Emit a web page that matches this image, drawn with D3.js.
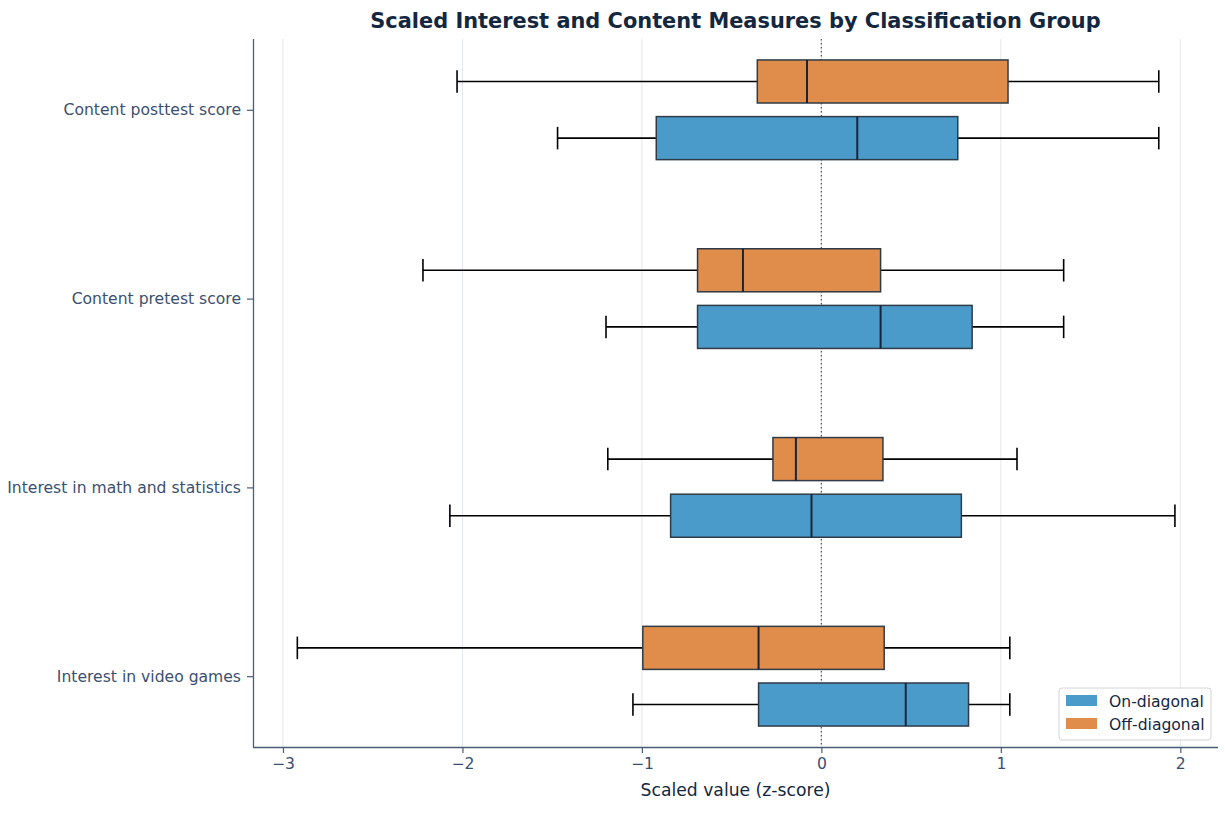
<!DOCTYPE html>
<html lang="en">
<head>
    <meta charset="UTF-8">
    <title>Scaled Interest and Content Measures</title>
    <style>
        body { margin: 0; background: #fff; }
        svg { font-family: "DejaVu Sans", sans-serif; }
    </style>
</head>
<body>
    <div id="chart"></div>

    <script src="https://d3js.org/d3.v7.min.js"></script>
    <script>
        const w = 1225;
        const h = 813;
        const padL = 253, padR = 1218, padT = 39, padB = 747;

        const categories = ['Content posttest score', 'Content pretest score',
                            'Interest in math and statistics', 'Interest in video games'];
        const groups = ['On-diagonal', 'Off-diagonal'];
        const colors = ['#4a9bc9', '#e08d4b'];
        const xTicks = [-3, -2, -1, 0, 1, 2];

        // [whisker low, q1, median, q3, whisker high] per category
        const onDiagonal = [
            [-1.47, -0.92, 0.20, 0.76, 1.88],
            [-1.20, -0.69, 0.33, 0.84, 1.35],
            [-2.07, -0.84, -0.055, 0.78, 1.97],
            [-1.05, -0.35, 0.47, 0.82, 1.05]
        ];
        const offDiagonal = [
            [-2.03, -0.357, -0.08, 1.04, 1.88],
            [-2.22, -0.69, -0.437, 0.33, 1.35],
            [-1.19, -0.27, -0.142, 0.343, 1.09],
            [-2.92, -0.995, -0.35, 0.35, 1.05]
        ];

        const xScale = d3.scaleLinear()
            .domain([-3.167, 2.21])
            .range([padL, padR]);
        const yScale = d3.scalePoint()
            .domain(categories)
            .range([padT, padB])
            .padding(0.375);
        const step = yScale.step();
        const offset = step * 0.15;      // distance of each box from the category
        const boxH = step * 0.228;
        const capH = boxH / 2;

        const svg = d3.select('#chart')
            .append('svg')
            .attr('width', w)
            .attr('height', h);

        // grid
        svg.append('g')
            .selectAll('line')
            .data(xTicks)
            .enter()
            .append('line')
            .attr('x1', d => xScale(d))
            .attr('x2', d => xScale(d))
            .attr('y1', padT)
            .attr('y2', padB)
            .attr('stroke', '#e3e7ed')
            .attr('stroke-width', 1);

        // zero reference
        svg.append('line')
            .attr('x1', xScale(0))
            .attr('x2', xScale(0))
            .attr('y1', padT)
            .attr('y2', padB)
            .attr('stroke', '#3d5470')
            .attr('stroke-width', 1.2)
            .attr('stroke-dasharray', '1.5,2.5');

        const boxes = [];
        categories.forEach((c, i) => {
            boxes.push({cat: c, g: 1, s: offDiagonal[i], cy: yScale(c) - offset});
            boxes.push({cat: c, g: 0, s: onDiagonal[i], cy: yScale(c) + offset});
        });

        const bx = svg.append('g')
            .selectAll('g')
            .data(boxes)
            .enter()
            .append('g');

        // whiskers
        bx.append('line')
            .attr('x1', d => xScale(d.s[0]))
            .attr('x2', d => xScale(d.s[1]))
            .attr('y1', d => d.cy).attr('y2', d => d.cy)
            .attr('stroke', '#000').attr('stroke-width', 1.6);
        bx.append('line')
            .attr('x1', d => xScale(d.s[3]))
            .attr('x2', d => xScale(d.s[4]))
            .attr('y1', d => d.cy).attr('y2', d => d.cy)
            .attr('stroke', '#000').attr('stroke-width', 1.6);
        // caps
        bx.selectAll('.cap')
            .data(d => [{x: d.s[0], cy: d.cy}, {x: d.s[4], cy: d.cy}])
            .enter()
            .append('line')
            .attr('class', 'cap')
            .attr('x1', d => xScale(d.x)).attr('x2', d => xScale(d.x))
            .attr('y1', d => d.cy - capH / 2 - 0.5).attr('y2', d => d.cy + capH / 2 + 0.5)
            .attr('stroke', '#000').attr('stroke-width', 1.6);
        // box
        bx.append('rect')
            .attr('x', d => xScale(d.s[1]))
            .attr('width', d => xScale(d.s[3]) - xScale(d.s[1]))
            .attr('y', d => d.cy - boxH / 2)
            .attr('height', boxH)
            .attr('fill', d => colors[d.g])
            .attr('stroke', '#2f3b47')
            .attr('stroke-width', 1.5);
        // median
        bx.append('line')
            .attr('x1', d => xScale(d.s[2])).attr('x2', d => xScale(d.s[2]))
            .attr('y1', d => d.cy - boxH / 2).attr('y2', d => d.cy + boxH / 2)
            .attr('stroke', '#13263d').attr('stroke-width', 2);

        // axes
        const xAxis = d3.axisBottom(xScale)
            .tickValues(xTicks)
            .tickSize(6)
            .tickPadding(5)
            .tickFormat(d3.format('d'));
        const yAxis = d3.axisLeft(yScale)
            .tickSize(6)
            .tickPadding(6);

        const gx = svg.append('g')
            .attr('transform', `translate(0, ${padB})`)
            .call(xAxis);
        const gy = svg.append('g')
            .attr('transform', `translate(${padL}, 0)`)
            .call(yAxis);

        gx.select('.domain').attr('d', `M${padL},0.5H${padR}`);
        gy.select('.domain').attr('d', `M0.5,${padT}V${padB}`);
        [gx, gy].forEach(g => {
            g.select('.domain').attr('stroke', '#4a5d78').attr('stroke-width', 1.3);
            g.selectAll('.tick line').attr('stroke', '#4a5d78').attr('stroke-width', 1.2);
            g.selectAll('.tick text')
                .attr('fill', '#3a5070')
                .style('font-size', '15.6px')
                .style('font-family', '"DejaVu Sans", sans-serif');
        });

        // titles
        svg.append('text')
            .attr('x', (padL + padR) / 2)
            .attr('y', 28)
            .attr('text-anchor', 'middle')
            .attr('fill', '#13273f')
            .style('font-size', '20.9px')
            .style('font-weight', 'bold')
            .text('Scaled Interest and Content Measures by Classification Group');

        svg.append('text')
            .attr('x', (padL + padR) / 2)
            .attr('y', 796)
            .attr('text-anchor', 'middle')
            .attr('fill', '#13273f')
            .style('font-size', '17.2px')
            .text('Scaled value (z-score)');

        // legend
        const lg = svg.append('g')
            .attr('transform', 'translate(1059, 688)');
        lg.append('rect')
            .attr('width', 152)
            .attr('height', 52)
            .attr('rx', 3)
            .attr('fill', '#fff')
            .attr('fill-opacity', 0.85)
            .attr('stroke', '#d4d4d4');
        const items = lg.selectAll('.item')
            .data(groups)
            .enter()
            .append('g')
            .attr('class', 'item')
            .attr('transform', (d, i) => `translate(7, ${7 + i * 23})`);
        items.append('rect')
            .attr('width', 31)
            .attr('height', 11)
            .attr('fill', (d, i) => colors[i]);
        items.append('text')
            .attr('x', 43)
            .attr('y', 11.5)
            .attr('fill', '#13273f')
            .style('font-size', '15.6px')
            .text(d => d);
    </script>
</body>
</html>
